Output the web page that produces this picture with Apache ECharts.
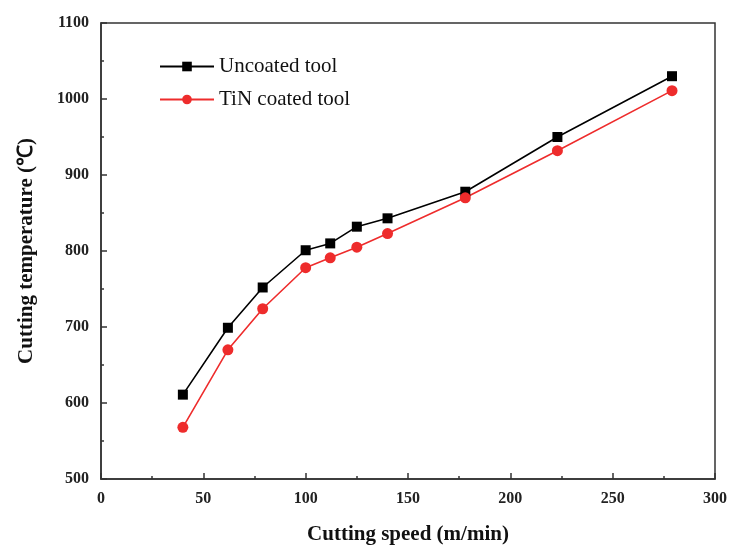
<!DOCTYPE html>
<html>
<head>
<meta charset="utf-8">
<script src="https://cdn.jsdelivr.net/npm/echarts@6/dist/echarts.min.js"></script>
<style>
  html, body { margin: 0; padding: 0; background: #fff; }
  #chart { width: 730px; height: 550px; }
</style>
</head>
<body>
<div id="chart"></div>
<script>
// cutting speed (m/min)
var speeds = [40, 62, 79, 100, 112, 125, 140, 178, 223, 279];
// cutting temperature (℃)
var uncoated = [611, 699, 752, 801, 810, 832, 843, 878, 950, 1030];
var tinCoated = [568, 670, 724, 778, 791, 805, 823, 870, 932, 1011];

var fontFam = '"Liberation Serif", "Times New Roman", serif';

function pairs (xs, ys) {
  return xs.map(function (x, i) { return [x, ys[i]]; });
}

var chart = echarts.init(document.getElementById('chart'));
chart.setOption({
  animation: false,
  grid: {
    left: 101,
    right: 13,
    top: 23,
    bottom: 71,
    show: true,
    borderColor: '#333',
    borderWidth: 1.5
  },
  legend: {
    orient: 'vertical',
    left: 154,
    top: 51,
    itemWidth: 54,
    itemHeight: 12,
    itemGap: 12,
    textStyle: { fontFamily: fontFam, fontSize: 21, color: '#111' },
    data: ['Uncoated tool', 'TiN coated tool']
  },
  xAxis: {
    type: 'value',
    min: 0,
    max: 300,
    interval: 50,
    name: 'Cutting speed (m/min)',
    nameLocation: 'middle',
    nameGap: 45,
    nameTextStyle: { fontFamily: fontFam, fontSize: 21, fontWeight: 'bold', color: '#111' },
    axisLine: { lineStyle: { color: '#333', width: 1.5 } },
    axisTick: { inside: true, length: 6, lineStyle: { color: '#333', width: 1.5 } },
    minorTick: { show: true, splitNumber: 2, length: 3, lineStyle: { color: '#333', width: 1.5 } },
    axisLabel: {
      fontFamily: fontFam, fontSize: 16, fontWeight: 'bold', color: '#222', margin: 12,
      formatter: function (v) { return String(v); }
    },
    splitLine: { show: false }
  },
  yAxis: {
    type: 'value',
    min: 500,
    max: 1100,
    interval: 100,
    name: 'Cutting temperature (℃)',
    nameLocation: 'middle',
    nameGap: 64,
    nameTextStyle: { fontFamily: fontFam, fontSize: 21, fontWeight: 'bold', color: '#111' },
    axisLine: { lineStyle: { color: '#333', width: 1.5 } },
    axisTick: { inside: true, length: 6, lineStyle: { color: '#333', width: 1.5 } },
    minorTick: { show: true, splitNumber: 2, length: 3, lineStyle: { color: '#333', width: 1.5 } },
    axisLabel: {
      fontFamily: fontFam, fontSize: 16, fontWeight: 'bold', color: '#222', margin: 12,
      formatter: function (v) { return String(v); }
    },
    splitLine: { show: false }
  },
  series: [
    {
      name: 'Uncoated tool',
      type: 'line',
      data: pairs(speeds, uncoated),
      symbol: 'rect',
      symbolSize: 10,
      color: '#000',
      lineStyle: { color: '#000', width: 1.6 },
      itemStyle: { color: '#000' }
    },
    {
      name: 'TiN coated tool',
      type: 'line',
      data: pairs(speeds, tinCoated),
      symbol: 'circle',
      symbolSize: 11,
      color: '#ee2c2c',
      lineStyle: { color: '#ee2c2c', width: 1.6 },
      itemStyle: { color: '#ee2c2c' }
    }
  ]
});
</script>
</body>
</html>
